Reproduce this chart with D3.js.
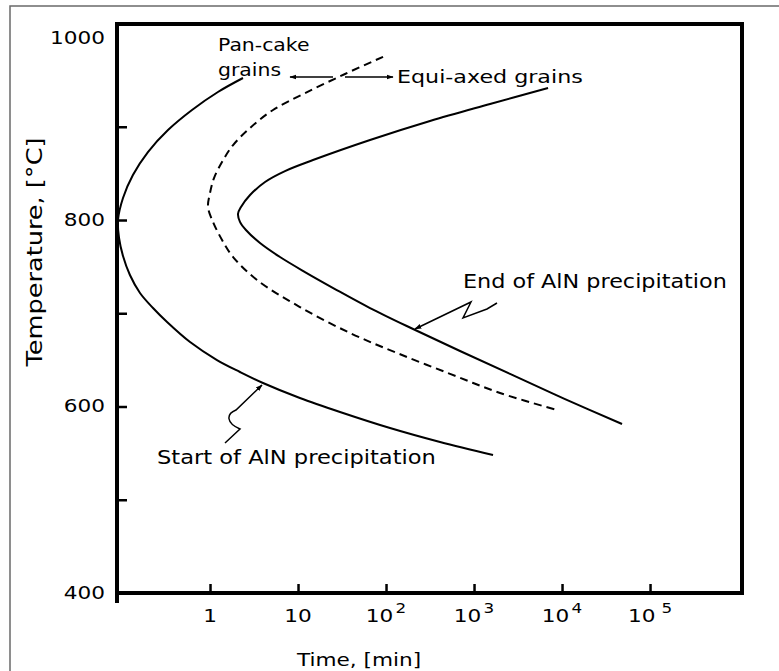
<!DOCTYPE html>
<html>
<head>
<meta charset="utf-8">
<script src="https://cdn.jsdelivr.net/npm/d3@7"></script>
<style>
  html, body { margin: 0; padding: 0; background: #fff; }
  svg { display: block; }
  text { font-family: "DejaVu Sans", Verdana, sans-serif; fill: #000; }
</style>
</head>
<body>
<script>
// ---------------- data ----------------
const xTickValues = [1, 10, 100, 1000, 10000, 100000];
const xTickBase   = ["1", "10", "10", "10", "10", "10"];
const xTickExp    = ["", "", "2", "3", "4", "5"];
const yTickValues = [500, 600, 700, 800, 900];
const yTickLabels = [400, 600, 800, 1000];

// Start of AlN precipitation (time in min, temperature in °C)
const startTime = [2.37, 1.23, 0.624, 0.333, 0.197, 0.133, 0.1026, 0.090, 0.0925, 0.1026, 0.123, 0.160, 0.225, 0.325, 0.593, 1.20, 2.19, 4.0, 10.5, 30.0, 111, 411, 1644];
const startTemp = [952.3, 937.3, 918, 896.5, 872.9, 848.3, 823.6, 800, 780.7, 761.4, 741, 721.7, 705.6, 690.6, 669.1, 649.8, 637, 625.2, 609.1, 594.1, 576.9, 561.9, 548];

// Pan-cake / equi-axed boundary (dashed)
const dashTime = [92.5, 34.2, 12.0, 5.20, 2.85, 1.83, 1.41, 1.11, 1.0, 0.949, 1.08, 1.37, 1.83, 3.42, 10.5, 39, 133, 534, 1974, 9010];
const dashTemp = [975, 956.6, 936, 918, 898.7, 880.4, 864.3, 845, 829, 814, 798, 778.6, 760.3, 735.7, 706.7, 678.8, 657.4, 635, 614.5, 596];

// End of AlN precipitation
const endTime = [6934, 1520, 316, 65.8, 14.8, 7.11, 4.22, 2.85, 2.25, 2.08, 2.19, 2.56, 3.70, 6.24, 12.0, 26.3, 65.8, 203, 693, 2565, 10820, 48060];
const endTemp = [941.6, 924.4, 906.2, 885.8, 864.3, 852.5, 840.8, 826.8, 814, 806.6, 798, 789.3, 775.3, 760.3, 744.2, 726, 705.6, 683.1, 659.5, 634.9, 608, 581.2];

// ---------------- chart ----------------
const W = 779, H = 671;
const L = 117, R = 742, T = 24, B = 593;
const SX = 1.2; // horizontal glyph stretch of the original scan

const svg = d3.select("body").append("svg").attr("width", W).attr("height", H);

// outer frame
svg.append("rect").attr("x", 10).attr("y", 6).attr("width", 800).attr("height", 700)
  .attr("fill", "none").attr("stroke", "#6a6a6a").attr("stroke-width", 1.5);

const x = d3.scaleLog().domain([Math.pow(10, -1.057), Math.pow(10, 6.045)]).range([L, R]);
const y = d3.scaleLinear().domain([400, 1010.2]).range([B, T]);

function stretchedText(px, py, str, anchor, size) {
  const g = svg.append("g").attr("transform", `translate(${px},${py}) scale(${SX},1)`);
  const t = g.append("text").attr("text-anchor", anchor || "start")
    .attr("dominant-baseline", "central").attr("font-size", size || 18).text(str);
  return t;
}

// x axis ticks (inward)
const xAxis = d3.axisBottom(x).tickValues(xTickValues).tickSize(-9).tickFormat("");
const gx = svg.append("g").attr("transform", `translate(0,${B})`).call(xAxis);
gx.select(".domain").remove();
gx.selectAll(".tick line").attr("stroke", "#000").attr("stroke-width", 2.5);

// y axis ticks (inward)
const yAxis = d3.axisLeft(y).tickValues(yTickValues).tickSize(-10).tickFormat("");
const gy = svg.append("g").attr("transform", `translate(${L},0)`).call(yAxis);
gy.select(".domain").remove();
gy.selectAll(".tick line").attr("stroke", "#000").attr("stroke-width", 2.5);

// plot box
svg.append("path")
  .attr("d", `M${L},${B + 10} L${L},${T} L${R},${T} L${R},${B} L${L},${B}`)
  .attr("fill", "none").attr("stroke", "#000").attr("stroke-width", 4)
  .attr("stroke-linejoin", "miter");

// x tick labels
xTickValues.forEach((v, i) => {
  const g = svg.append("g").attr("transform", `translate(${x(v)},${616}) scale(${SX},1)`);
  const t = g.append("text").attr("text-anchor", "middle").attr("dominant-baseline", "central")
    .attr("font-size", 18);
  t.append("tspan").text(xTickBase[i]);
  if (xTickExp[i]) {
    t.append("tspan").attr("font-size", 14).attr("dx", i === 5 ? 5 : 2).attr("dy", -8).text(xTickExp[i]);
  }
});

// y tick labels
yTickLabels.forEach(v => {
  stretchedText(105, Math.max(y(v), 38), String(v), "end", 18);
});

// axis titles
stretchedText(359, 660, "Time, [min]", "middle", 18);
{
  const g = svg.append("g").attr("transform", `translate(35,252) rotate(-90) scale(1,${SX})`);
  g.append("text").attr("text-anchor", "middle").attr("dominant-baseline", "central")
    .attr("font-size", 18).attr("textLength", 229).attr("lengthAdjust", "spacingAndGlyphs")
    .text("Temperature, [°C]");
}

// curves
const line = d3.line().x(d => x(d[0])).y(d => y(d[1])).curve(d3.curveCatmullRom.alpha(0.5));
const startPts = startTime.map((t, i) => [t, startTemp[i]]);
const dashPts = dashTime.map((t, i) => [t, dashTemp[i]]);
const endPts = endTime.map((t, i) => [t, endTemp[i]]);

svg.append("path").attr("d", line(startPts)).attr("fill", "none").attr("stroke", "#000").attr("stroke-width", 2);
svg.append("path").attr("d", line(endPts)).attr("fill", "none").attr("stroke", "#000").attr("stroke-width", 2);
svg.append("path").attr("d", line(dashPts)).attr("fill", "none").attr("stroke", "#000").attr("stroke-width", 2)
  .attr("stroke-dasharray", "8,5");

// arrow marker
const defs = svg.append("defs");
defs.append("marker").attr("id", "ah").attr("viewBox", "0 0 10 10").attr("refX", 9).attr("refY", 5)
  .attr("markerWidth", 7).attr("markerHeight", 7).attr("orient", "auto-start-reverse")
  .attr("markerUnits", "userSpaceOnUse")
  .append("path").attr("d", "M0,1.5 L10,5 L0,8.5 Z").attr("fill", "#000");

// top double arrows
svg.append("line").attr("x1", 333).attr("y1", 77).attr("x2", 290).attr("y2", 77)
  .attr("stroke", "#000").attr("stroke-width", 1.5).attr("marker-end", "url(#ah)");
svg.append("line").attr("x1", 345).attr("y1", 77).attr("x2", 393).attr("y2", 77)
  .attr("stroke", "#000").attr("stroke-width", 1.5).attr("marker-end", "url(#ah)");

// squiggly pointer arrows
svg.append("path")
  .attr("d", "M225,443 L240,429 C226,423 226,414 236,410 L262,385")
  .attr("fill", "none").attr("stroke", "#000").attr("stroke-width", 1.5).attr("marker-end", "url(#ah)");
svg.append("path")
  .attr("d", "M497,303 L487,309 L463,318 L471,302 L415,329")
  .attr("fill", "none").attr("stroke", "#000").attr("stroke-width", 1.5).attr("marker-end", "url(#ah)");

// annotations
stretchedText(218, 45, "Pan-cake", "start", 17);
stretchedText(218, 70, "grains", "start", 17);
stretchedText(397, 77, "Equi-axed grains", "start", 18.5);
stretchedText(463, 282, "End of AlN precipitation", "start", 18.6);
stretchedText(157, 458, "Start of AlN precipitation", "start", 18.8);
</script>
</body>
</html>
